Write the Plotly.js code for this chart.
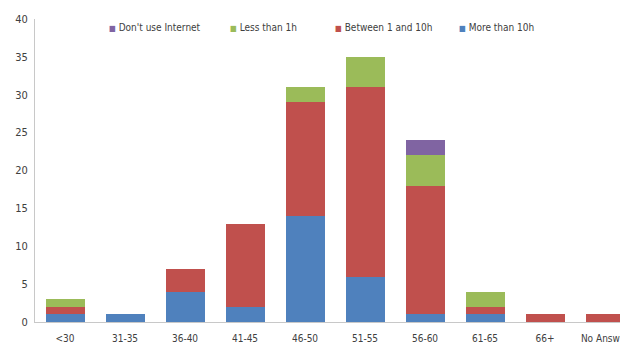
<!DOCTYPE html>
<html>
<head>
<meta charset="utf-8">
<script src="https://cdn.plot.ly/plotly-3.0.1.min.js"></script>
<style>
  html, body { margin: 0; padding: 0; background: #fff; overflow: hidden; }
  #chart { width: 640px; height: 343px; }
</style>
</head>
<body>
<div id="chart"></div>
<script>
// Age groups on the x axis
const ageGroups = ['<30', '31-35', '36-40', '41-45', '46-50', '51-55', '56-60', '61-65', '66+', 'No Answer'];

// Respondents per age group, by weekly Internet use
const moreThan10h   = [1, 1, 4, 2, 14, 6, 1, 1, 0, 0];
const between1And10 = [1, 0, 3, 11, 15, 25, 17, 1, 1, 1];
const lessThan1h    = [1, 0, 0, 0, 2, 4, 4, 2, 0, 0];
const noInternet    = [0, 0, 0, 0, 0, 0, 2, 0, 0, 0];

const seriesNames = ["Don't use Internet", 'Less than 1h', 'Between 1 and 10h', 'More than 10h'];
const yTicks = [0, 5, 10, 15, 20, 25, 30, 35, 40];

const colors = {
  "Don't use Internet": '#8064A2',
  'Less than 1h': '#9BBB59',
  'Between 1 and 10h': '#C0504D',
  'More than 10h': '#4F81BD'
};

const FONT = '"Liberation Sans Narrow", "DejaVu Sans Condensed", "Arial Narrow", sans-serif';
const TEXT = '#404040';

// stacked from the bottom up
const stack = [
  ['More than 10h', moreThan10h],
  ['Between 1 and 10h', between1And10],
  ['Less than 1h', lessThan1h],
  ["Don't use Internet", noInternet]
];

const traces = stack.map(([name, vals]) => ({
  type: 'bar',
  name: name,
  x: ageGroups,
  y: vals,
  marker: { color: colors[name], line: { width: 0 } },
  showlegend: false,
  hoverinfo: 'x+y+name'
}));

// legend row across the top, each entry a coloured square and its label
const legendLeft = [109, 230, 335, 459];
const plotLeft = 35, plotWidth = 600;
const legendEntries = seriesNames.map((name, i) => ({
  xref: 'paper', yref: 'paper',
  x: (legendLeft[i] - 2 - plotLeft) / plotWidth,
  y: 0.972,
  xanchor: 'left', yanchor: 'middle',
  showarrow: false,
  text: '<span style="color:' + colors[name] + ';font-size:8px">■</span> ' + name,
  font: { family: FONT, size: 10, color: TEXT }
}));

const layout = {
  width: 640,
  height: 343,
  margin: { l: plotLeft, r: 5, t: 19, b: 21 },
  paper_bgcolor: '#ffffff',
  plot_bgcolor: '#ffffff',
  barmode: 'stack',
  bargap: 0.35,
  showlegend: false,
  font: { family: FONT, size: 10, color: TEXT },
  xaxis: {
    type: 'category',
    categoryarray: ageGroups,
    range: [-0.5, 9.5],
    showline: true,
    linecolor: '#c8c8c8',
    linewidth: 1,
    showgrid: false,
    zeroline: false,
    ticks: '',
    ticklabelstandoff: 7,
    tickfont: { family: FONT, size: 10, color: TEXT },
    fixedrange: true
  },
  yaxis: {
    range: [0, 40],
    tickvals: yTicks,
    ticktext: yTicks.map(String),
    showline: true,
    linecolor: '#c8c8c8',
    linewidth: 1,
    showgrid: false,
    zeroline: false,
    ticks: '',
    ticklabelstandoff: 4,
    tickfont: { family: FONT, size: 11, color: TEXT },
    fixedrange: true
  },
  annotations: legendEntries
};

Plotly.newPlot('chart', traces, layout, { displayModeBar: false, staticPlot: true });
</script>
</body>
</html>
